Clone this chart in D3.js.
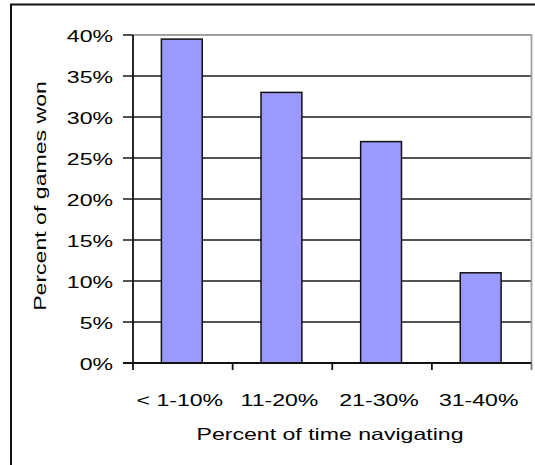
<!DOCTYPE html>
<html>
<head>
<meta charset="utf-8">
<script src="https://cdn.jsdelivr.net/npm/d3@7"></script>
<style>
  html, body { margin: 0; padding: 0; background: #fff; }
  svg { display: block; }
  text { font-family: "Liberation Sans", Arial, sans-serif; fill: #000; }
</style>
</head>
<body>
<svg id="chart" width="535" height="465"></svg>
<script>
// Share of games won by how much of the time was spent navigating
const categories = ["< 1-10%", "11-20%", "21-30%", "31-40%"];
const percentWon = [0.395, 0.33, 0.27, 0.11];
const yTicks = [0, 0.05, 0.10, 0.15, 0.20, 0.25, 0.30, 0.35, 0.40];
const xTitle = "Percent of time navigating";
const yTitle = "Percent of games won";

const svg = d3.select("#chart");
const plot = { left: 133, right: 531.5, top: 35, bottom: 363 };
const stretch = 1.4;     // wide lettering
const fontSize = 16.5;

const x = d3.scaleBand().domain(categories).range([plot.left, plot.right]).padding(0);
const y = d3.scaleLinear().domain([0, 0.40]).range([plot.bottom, plot.top]);
const fmt = d3.format(".0%");

// outer frame (top and left edges visible)
svg.append("path")
  .attr("d", `M535,4.5 H11 V465`)
  .attr("fill", "none").attr("stroke", "#111").attr("stroke-width", 2);

// horizontal gridlines (with left tick extension)
svg.append("g").selectAll("line")
  .data(yTicks.filter(d => d > 0 && d < 0.40))
  .join("line")
  .attr("x1", plot.left - 10).attr("x2", plot.right)
  .attr("y1", d => y(d)).attr("y2", d => y(d))
  .attr("stroke", "#1a1a1a").attr("stroke-width", 1.5);

// plot area border on top and right (grey)
svg.append("path")
  .attr("d", `M${plot.left},${y(0.40)} H${plot.right} V${plot.bottom}`)
  .attr("fill", "none").attr("stroke", "#a0a0a0").attr("stroke-width", 1.8);
svg.append("line")
  .attr("x1", plot.left - 10).attr("x2", plot.left)
  .attr("y1", y(0.40)).attr("y2", y(0.40))
  .attr("stroke", "#1a1a1a").attr("stroke-width", 1.5);

// bars
const barW = x.bandwidth() * 0.41;
svg.append("g").selectAll("rect")
  .data(categories.map((c, i) => ({ c, v: percentWon[i] })))
  .join("rect")
  .attr("x", d => x(d.c) + x.bandwidth() / 2 - barW / 2 - 1)
  .attr("y", d => y(d.v))
  .attr("width", barW)
  .attr("height", d => y(0) - y(d.v))
  .attr("fill", "#9999ff")
  .attr("stroke", "#111").attr("stroke-width", 1.5);

// y axis line
svg.append("line")
  .attr("x1", plot.left).attr("x2", plot.left)
  .attr("y1", plot.top).attr("y2", plot.bottom)
  .attr("stroke", "#111").attr("stroke-width", 1.8);

// x axis line and tick marks at category boundaries
svg.append("line")
  .attr("x1", plot.left - 10).attr("x2", plot.right)
  .attr("y1", plot.bottom).attr("y2", plot.bottom)
  .attr("stroke", "#111").attr("stroke-width", 1.8);
const edges = categories.map(c => x(c)).concat([x.range()[1]]);
svg.append("g").selectAll("line")
  .data(edges)
  .join("line")
  .attr("x1", d => d).attr("x2", d => d)
  .attr("y1", plot.bottom).attr("y2", plot.bottom + 7)
  .attr("stroke", (d, i) => i === edges.length - 1 ? "#777" : "#111")
  .attr("stroke-width", 1.8);

// y tick labels
svg.append("g").selectAll("text")
  .data(yTicks)
  .join("text")
  .attr("transform", d => `translate(113,${y(d) + 6.5}) scale(${stretch},1)`)
  .attr("text-anchor", "end")
  .attr("font-size", fontSize)
  .text(d => fmt(d));

// x tick labels
svg.append("g").selectAll("text")
  .data(categories)
  .join("text")
  .attr("transform", d => `translate(${x(d) + x.bandwidth() / 2 - 3},406) scale(${stretch},1)`)
  .attr("text-anchor", "middle")
  .attr("font-size", fontSize)
  .text(d => d);

// axis titles
svg.append("text")
  .attr("transform", `translate(330,440) scale(${stretch},1)`)
  .attr("text-anchor", "middle")
  .attr("font-size", fontSize)
  .text(xTitle);

svg.append("text")
  .attr("transform", `translate(46,196) rotate(-90) scale(${stretch},1)`)
  .attr("text-anchor", "middle")
  .attr("font-size", fontSize)
  .text(yTitle);
</script>
</body>
</html>
